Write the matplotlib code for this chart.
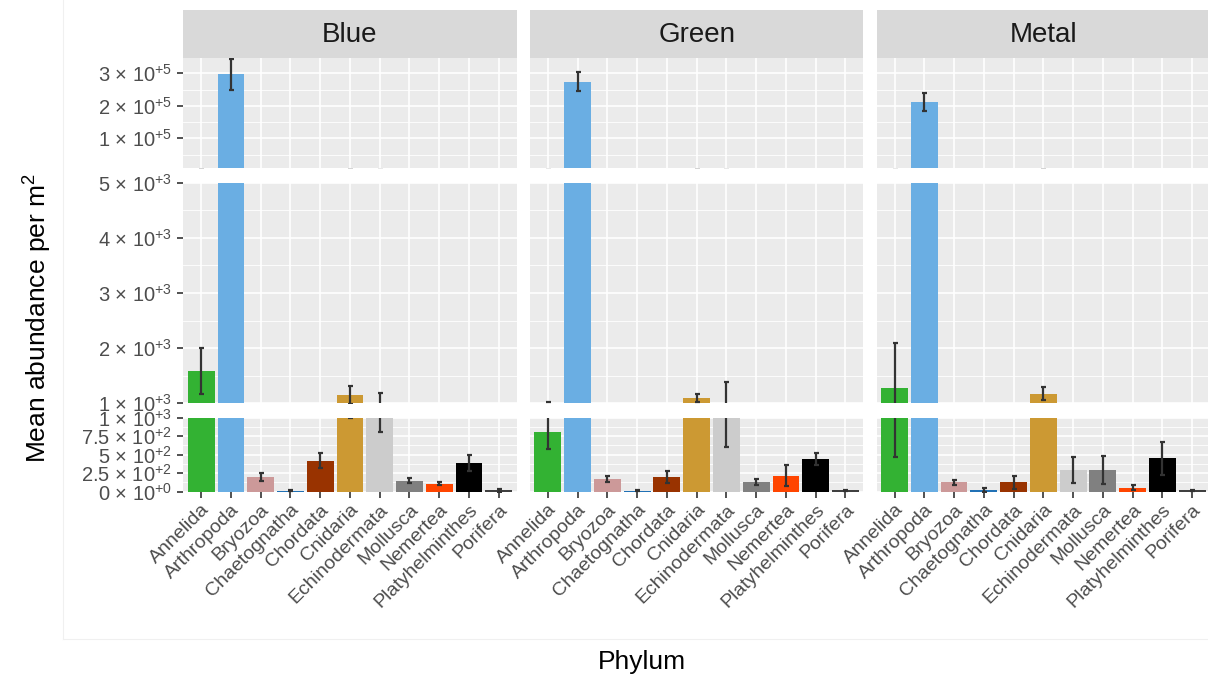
"""Mean abundance per phylum, faceted by panel colour, with a broken y axis"""

import matplotlib
matplotlib.use('Agg')
import matplotlib.pyplot as plt
from matplotlib.lines import Line2D
import numpy as np

plt.rcParams['font.family'] = ['Liberation Sans', 'DejaVu Sans']
plt.rcParams['mathtext.default'] = 'regular'

# ---- data ----
phyla = ["Annelida", "Arthropoda", "Bryozoa", "Chaetognatha", "Chordata",
         "Cnidaria", "Echinodermata", "Mollusca", "Nemertea",
         "Platyhelminthes", "Porifera"]
phylum_colors = ["#33B233", "#6AAEE3", "#CC9999", "#2171B5", "#993300",
                 "#CC9933", "#CCCCCC", "#808080", "#FF4500", "#000000", "#404040"]

facets = ["Blue", "Green", "Metal"]

blue_mean = [1585, 297000, 198, 10, 420, 1150, 995, 145, 105, 385, 15]
blue_se = [420, 47000, 55, 8, 104, 155, 195, 36, 22, 107, 20]

green_mean = [800, 274000, 165, 10, 195, 1100, 996, 125, 215, 435, 15]
green_se = [225, 29500, 43, 8, 78, 75, 390, 40, 143, 80, 10]

metal_mean = [1280, 211000, 122, 25, 122, 1175, 290, 290, 54, 448, 15]
metal_se = [815, 27000, 30, 28, 85, 115, 175, 185, 34, 226, 10]

facet_means = [blue_mean, green_mean, metal_mean]
facet_ses = [blue_se, green_se, metal_se]

# y axis segments (bottom to top): limits, major ticks, minor ticks
seg_limits = [(0, 1000), (1000, 5000), (7700, 347000)]
seg_major = [[0, 250, 500, 750, 1000], [1000, 2000, 3000, 4000, 5000],
             [100000, 200000, 300000]]
seg_minor = [[125, 375, 625, 875], [1500, 2500, 3500, 4500],
             [50000, 150000, 250000]]

# ---- layout (pixels) ----
W, H = 1208, 678
panel_x = [(183.3, 516.6), (530.0, 863.3), (876.7, 1210.0)]
seg_y = [(417.7, 491.5), (182.7, 403.3), (58.0, 168.3)]
strip_y = (10.0, 58.0)

PANEL_BG = "#EBEBEB"
STRIP_BG = "#D9D9D9"
TICK_TXT = "#4D4D4D"
DARK = "#333333"


def rect(x0, y0, x1, y1):
    return [x0 / W, 1 - y1 / H, (x1 - x0) / W, (y1 - y0) / H]


def sci_label(v):
    if v == 0:
        return "0 × 10$^{+0}$"
    exp = int(np.floor(np.log10(v)))
    mant = v / 10 ** exp
    return f"{mant:g} × 10$^{{+{exp}}}$"


fig = plt.figure(figsize=(W / 100, H / 100), dpi=100)
fig.patch.set_facecolor("white")

# faint plot border from the composed layout
fig.add_artist(Line2D([63 / W, 63 / W], [1, 1 - 639 / H], color="#F0F0F0", lw=0.8))
fig.add_artist(Line2D([63 / W, 1], [1 - 639 / H, 1 - 639 / H], color="#F0F0F0", lw=0.8))

x = np.arange(len(phyla))

for fi, facet in enumerate(facets):
    x0, x1 = panel_x[fi]
    means = facet_means[fi]
    ses = facet_ses[fi]

    # strip
    sax = fig.add_axes(rect(x0, strip_y[0], x1, strip_y[1]))
    sax.set_facecolor(STRIP_BG)
    sax.set_xticks([])
    sax.set_yticks([])
    for s in sax.spines.values():
        s.set_visible(False)
    sax.text(0.5, 0.48, facet, ha="center", va="center", fontsize=20,
             color="#1A1A1A", transform=sax.transAxes)

    for si, (lo, hi) in enumerate(seg_limits):
        y0, y1 = seg_y[si]
        ax = fig.add_axes(rect(x0, y0, x1, y1))
        ax.set_facecolor(PANEL_BG)
        for s in ax.spines.values():
            s.set_visible(False)
        ax.set_xlim(-0.6, len(phyla) - 0.4)
        ax.set_ylim(lo, hi)

        # grid
        for v in seg_minor[si]:
            ax.axhline(v, color="white", lw=0.6, zorder=0.5)
        for v in seg_major[si]:
            ax.axhline(v, color="white", lw=1.2, zorder=0.6)
        for xv in x:
            ax.axvline(xv, color="white", lw=1.2, zorder=0.6)

        ax.bar(x, means, width=0.9, color=phylum_colors, zorder=2)
        ax.errorbar(x, means, yerr=ses, fmt="none", ecolor=DARK,
                    elinewidth=1.6, capsize=1.8, capthick=1.6, zorder=3)

        ax.set_yticks(seg_major[si])
        if fi == 0:
            ax.set_yticklabels([sci_label(v) for v in seg_major[si]])
            ax.tick_params(axis="y", length=4.5, width=1.2, color=DARK,
                           labelcolor=TICK_TXT, labelsize=14.5, pad=3.5)
        else:
            ax.tick_params(axis="y", length=0, labelleft=False)

        ax.set_xticks(x)
        if si == 0:
            ax.set_xticklabels(phyla, rotation=45, ha="right", va="top",
                               rotation_mode="anchor")
            ax.tick_params(axis="x", length=4.5, width=1.2, color=DARK,
                           labelcolor=TICK_TXT, labelsize=14, pad=2.5)
        else:
            ax.tick_params(axis="x", length=0, labelbottom=False)

fig.text(38 / W, 1 - 318 / H, "Mean abundance per m$^2$", rotation=90,
         ha="center", va="center", fontsize=19, color="black")
fig.text(642 / W, 1 - 662 / H, "Phylum", ha="center", va="center",
         fontsize=19, color="black")

fig.savefig("out.png", dpi=100)
